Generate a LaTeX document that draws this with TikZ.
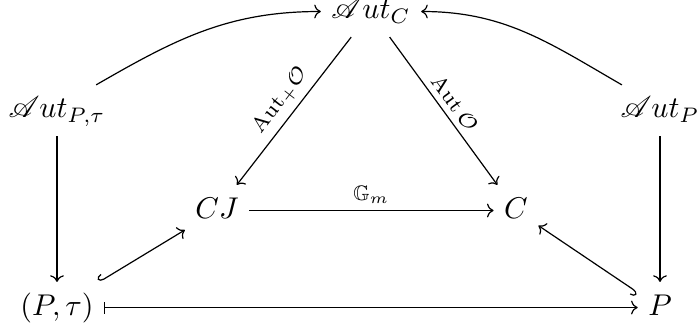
\documentclass[tikz,border=0pt]{standalone}
\usepackage{amssymb}
\usepackage{mathrsfs}
\usetikzlibrary{arrows.meta}
\begin{document}
\begin{tikzpicture}[x=0.33333pt,y=0.33333pt,
  obj/.style={anchor=base,text height=7.5pt,text depth=2.5pt},
  arr/.style={-{To[length=2.2pt,width=4.6pt]},line width=0.4pt},
  hookarr/.style={{Hooks[right,length=1.8pt,width=4pt]}-{To[length=2.2pt,width=4.6pt]},line width=0.4pt},
  mapsarr/.style={{Bar[width=4pt]}-{To[length=2.2pt,width=4.6pt]},line width=0.4pt},
  lab/.style={font=\scriptsize,inner sep=2pt}]
\useasboundingbox (0,0) rectangle (698,331);
\node[obj] (AC)  at (371,312) {$\mathscr{A}ut_C$};
\node[obj] (APt) at (57,213)  {$\mathscr{A}ut_{P,\tau}$};
\node[obj] (AP)  at (660,213) {$\mathscr{A}ut_P$};
\node[obj] (CJ)  at (217,113) {$CJ$};
\node[obj] (C)   at (516,113) {$C$};
\node[obj] (Pt)  at (57,16)   {$(P,\tau)$};
\node[obj] (P)   at (660,16)  {$P$};
\draw[arr] ([shift={(-20,0)}]APt.north east) to[out=30,in=180] (AC.west);
\draw[arr] ([shift={(12,0)}]AP.north west) to[out=150,in=0] (AC.east);
\draw[arr] (AC) -- node[lab,above,sloped] {$\mathrm{Aut}_+\mathcal{O}$} (CJ);
\draw[arr] (AC) -- node[lab,above,sloped] {$\mathrm{Aut}\,\mathcal{O}$} (C);
\draw[arr] (CJ) -- node[lab,above] {$\mathbb{G}_m$} (C);
\draw[arr] (APt) -- (Pt);
\draw[arr] (AP) -- (P);
\draw[hookarr] (Pt) -- (CJ);
\draw[hookarr] (P) -- (C);
\draw[mapsarr] (Pt) -- (P);
\end{tikzpicture}
\end{document}
